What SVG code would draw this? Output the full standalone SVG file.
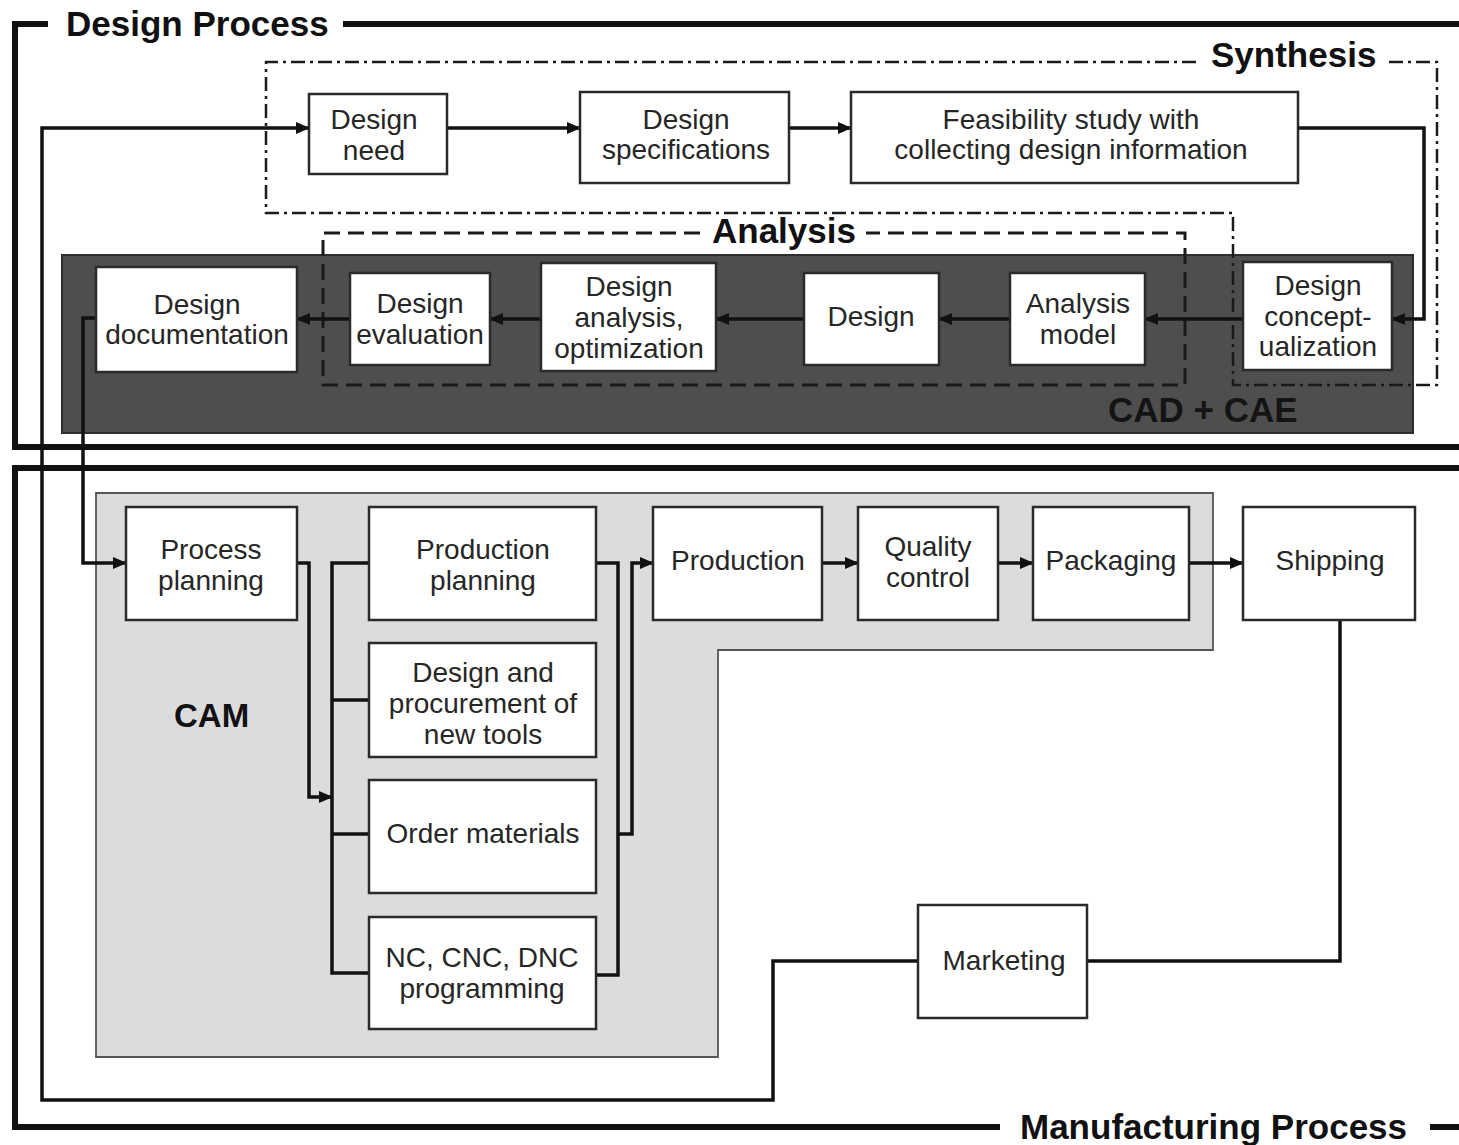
<svg xmlns="http://www.w3.org/2000/svg" width="1459" height="1145" viewBox="0 0 1459 1145">
  <defs>
    <marker id="arrow" markerUnits="userSpaceOnUse" markerWidth="14" markerHeight="12" refX="13" refY="6" orient="auto">
      <path d="M0,0 L14,6 L0,12 z" fill="#111"/>
    </marker>
    <style>
      .frame { fill: none; stroke: #111; stroke-width: 6; }
      .title { font-family: "Liberation Sans", Arial, sans-serif; font-weight: bold; font-size: 35px; fill: #111; }
      .node rect { fill: #fff; stroke: #2a2a2a; stroke-width: 2.5; }
      .node text { font-family: "Liberation Sans", Arial, sans-serif; font-size: 28px; fill: #262626; text-anchor: middle; }
      .conn { fill: none; stroke: #111; stroke-width: 3.5; }
      .arr { marker-end: url(#arrow); }
      .synth { fill: none; stroke: #1a1a1a; stroke-width: 2.5; stroke-dasharray: 14 5 3 5; }
      .anal { fill: none; stroke: #1a1a1a; stroke-width: 3; stroke-dasharray: 16 8; }
    </style>
  </defs>

  <rect width="1459" height="1145" fill="#fff"/>

  <!-- process frames -->
  <g id="design-process-frame">
    <path class="frame" d="M48,24 H15 V447 H1459"/>
    <path class="frame" d="M343,24 H1459"/>
    <text class="title" x="66" y="36">Design Process</text>
  </g>
  <g id="manufacturing-process-frame">
    <path class="frame" d="M1459,468 H15 V1127 H1000"/>
    <path class="frame" d="M1430,1127 H1459"/>
    <text class="title" x="1020" y="1139">Manufacturing Process</text>
  </g>

  <!-- CAD + CAE band -->
  <g id="cad-cae">
    <rect x="62" y="255" width="1351" height="178" fill="#4e4e4e" stroke="#2e2e2e" stroke-width="2"/>
    <text class="title" x="1108" y="422" fill="#141414" style="fill:#141414">CAD + CAE</text>
  </g>

  <!-- CAM area -->
  <g id="cam">
    <polygon points="96,493 1213,493 1213,650 718,650 718,1057 96,1057" fill="#dcdcde" stroke="#555" stroke-width="1.8"/>
    <text class="title" x="174" y="727" style="font-size:33px">CAM</text>
  </g>

  <!-- Synthesis and Analysis regions -->
  <g id="synthesis">
    <path class="synth" d="M1196,62 H266 V213 H1233 V385 H1437 V62 H1387"/>
    <text class="title" x="1211" y="67">Synthesis</text>
  </g>
  <g id="analysis">
    <path class="anal" d="M700,233 H323 V385 H1185 V233 H866"/>
    <text class="title" x="712" y="243">Analysis</text>
  </g>

  <!-- connectors -->
  <g id="connectors">
    <path class="conn arr" d="M447,128 H580"/>
    <path class="conn arr" d="M789,128 H851"/>
    <path class="conn arr" d="M1298,128 H1424 V319 H1392"/>
    <path class="conn arr" d="M1243,319 H1145"/>
    <path class="conn arr" d="M1010,319 H939"/>
    <path class="conn arr" d="M804,319 H716"/>
    <path class="conn arr" d="M541,319 H490"/>
    <path class="conn arr" d="M350,319 H297"/>
    <path class="conn arr" d="M96,318 H83 V563 H126"/>
    <path class="conn arr" d="M297,563 H309 V797 H332"/>
    <path class="conn" d="M369,563 H332 V973 H369"/>
    <path class="conn" d="M332,700 H369"/>
    <path class="conn" d="M332,834 H369"/>
    <path class="conn" d="M596,563 H618 V975 H596"/>
    <path class="conn arr" d="M618,834 H632 V563 H653"/>
    <path class="conn arr" d="M822,563 H858"/>
    <path class="conn arr" d="M998,563 H1033"/>
    <path class="conn arr" d="M1189,563 H1243"/>
    <path class="conn" d="M1340,620 V961 H1087"/>
    <path class="conn arr" d="M918,961 H773 V1100 H42 V128 H309"/>
  </g>

  <!-- nodes -->
  <g id="design-need" class="node">
    <rect x="309" y="94" width="138" height="80"/>
    <text x="374" y="129">Design</text>
    <text x="374" y="160">need</text>
  </g>
  <g id="design-specifications" class="node">
    <rect x="580" y="92" width="209" height="91"/>
    <text x="686" y="129">Design</text>
    <text x="686" y="159">specifications</text>
  </g>
  <g id="feasibility-study" class="node">
    <rect x="851" y="92" width="447" height="91"/>
    <text x="1071" y="129">Feasibility study with</text>
    <text x="1071" y="159">collecting design information</text>
  </g>

  <g id="design-documentation" class="node">
    <rect x="96" y="267" width="201" height="105"/>
    <text x="197" y="314">Design</text>
    <text x="197" y="344">documentation</text>
  </g>
  <g id="design-evaluation" class="node">
    <rect x="350" y="273" width="140" height="92"/>
    <text x="420" y="313">Design</text>
    <text x="420" y="344">evaluation</text>
  </g>
  <g id="design-analysis" class="node">
    <rect x="541" y="263" width="175" height="108"/>
    <text x="629" y="296">Design</text>
    <text x="629" y="327">analysis,</text>
    <text x="629" y="358">optimization</text>
  </g>
  <g id="design" class="node">
    <rect x="804" y="273" width="135" height="92"/>
    <text x="871" y="326">Design</text>
  </g>
  <g id="analysis-model" class="node">
    <rect x="1010" y="273" width="135" height="92"/>
    <text x="1078" y="313">Analysis</text>
    <text x="1078" y="344">model</text>
  </g>
  <g id="design-conceptualization" class="node">
    <rect x="1243" y="262" width="149" height="108"/>
    <text x="1318" y="295">Design</text>
    <text x="1318" y="326">concept-</text>
    <text x="1318" y="356">ualization</text>
  </g>

  <g id="process-planning" class="node">
    <rect x="126" y="507" width="171" height="113"/>
    <text x="211" y="559">Process</text>
    <text x="211" y="590">planning</text>
  </g>
  <g id="production-planning" class="node">
    <rect x="369" y="507" width="227" height="113"/>
    <text x="483" y="559">Production</text>
    <text x="483" y="590">planning</text>
  </g>
  <g id="tools" class="node">
    <rect x="369" y="643" width="227" height="114"/>
    <text x="483" y="682">Design and</text>
    <text x="483" y="713">procurement of</text>
    <text x="483" y="744">new tools</text>
  </g>
  <g id="order-materials" class="node">
    <rect x="369" y="780" width="227" height="113"/>
    <text x="483" y="843">Order materials</text>
  </g>
  <g id="nc-programming" class="node">
    <rect x="369" y="917" width="227" height="112"/>
    <text x="482" y="967">NC, CNC, DNC</text>
    <text x="482" y="998">programming</text>
  </g>
  <g id="production" class="node">
    <rect x="653" y="507" width="169" height="113"/>
    <text x="738" y="570">Production</text>
  </g>
  <g id="quality-control" class="node">
    <rect x="858" y="507" width="140" height="113"/>
    <text x="928" y="556">Quality</text>
    <text x="928" y="587">control</text>
  </g>
  <g id="packaging" class="node">
    <rect x="1033" y="507" width="156" height="113"/>
    <text x="1111" y="570">Packaging</text>
  </g>
  <g id="shipping" class="node">
    <rect x="1243" y="507" width="172" height="113"/>
    <text x="1330" y="570">Shipping</text>
  </g>
  <g id="marketing" class="node">
    <rect x="918" y="905" width="169" height="113"/>
    <text x="1004" y="970">Marketing</text>
  </g>
</svg>
